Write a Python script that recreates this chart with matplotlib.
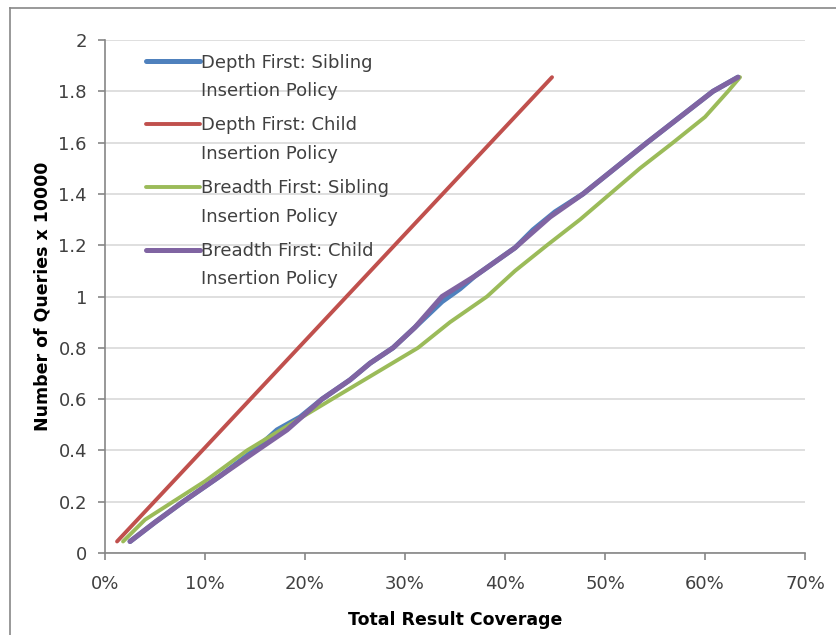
import numpy as np
import matplotlib
matplotlib.use("Agg")
import matplotlib.pyplot as plt
from matplotlib.lines import Line2D
from matplotlib.legend_handler import HandlerLine2D
from matplotlib.ticker import FuncFormatter

# --- data (x in % coverage, y in queries / 10000)
labels = ["Depth First: Sibling\nInsertion Policy",
          "Depth First: Child\nInsertion Policy",
          "Breadth First: Sibling\nInsertion Policy",
          "Breadth First: Child\nInsertion Policy"]

df_sib_x = [2.5, 5, 7.8, 11.5, 15.2, 17.2, 19.5, 21.7, 24.5, 26.5, 28.8, 31, 33.7, 35.5,
            37, 41, 42.8, 45, 47.8, 51, 54.2, 57.5, 60.8, 63.3]
df_sib_y = [0.045, 0.12, 0.2, 0.3, 0.41, 0.48, 0.53, 0.6, 0.675, 0.74, 0.8, 0.88, 0.98, 1.03,
            1.08, 1.19, 1.26, 1.33, 1.4, 1.5, 1.6, 1.7, 1.8, 1.855]

df_child_x = [1.2, 44.7]
df_child_y = [0.045, 1.855]

bf_sib_x = [1.8, 4, 6.8, 10, 14.2, 18, 22.7, 27, 31.3, 34.5, 38.2, 41, 44.2, 47.5, 50.5,
            53.5, 56.8, 60, 62.3, 63.5]
bf_sib_y = [0.045, 0.13, 0.2, 0.28, 0.4, 0.49, 0.6, 0.7, 0.8, 0.9, 1.0, 1.1, 1.2, 1.3, 1.4,
            1.5, 1.6, 1.7, 1.8, 1.855]

bf_child_x = [2.5, 5, 7.8, 11.5, 15.2, 18.2, 21.7, 24.5, 26.5, 28.8, 31, 33.7, 37, 41,
              44.5, 47.8, 51, 54.2, 57.5, 60.8, 63.3]
bf_child_y = [0.045, 0.12, 0.2, 0.3, 0.4, 0.48, 0.6, 0.675, 0.74, 0.8, 0.88, 1.0, 1.08, 1.19,
              1.31, 1.4, 1.5, 1.6, 1.7, 1.8, 1.855]

colors = ["#4F81BD", "#C0504D", "#9BBB59", "#8064A2"]
widths = [3.6, 2.8, 2.8, 3.6]

plt.rcParams['font.family'] = ['DejaVu Sans']

fig = plt.figure(figsize=(8.37, 6.35), dpi=100)
ax = fig.add_axes([0.1255, 0.1291, 0.8363, 0.8079])

series = [(df_sib_x, df_sib_y), (df_child_x, df_child_y),
          (bf_sib_x, bf_sib_y), (bf_child_x, bf_child_y)]
handles = []
for (xs, ys), c, w, lab in zip(series, colors, widths, labels):
    h, = ax.plot(xs, ys, color=c, lw=w, solid_capstyle='round', solid_joinstyle='round', label=lab)
    handles.append(h)

ax.set_xlim(0, 70)
ax.set_ylim(0, 2)
ax.set_xticks(np.arange(0, 71, 10))
ax.set_yticks(np.arange(0, 2.01, 0.2))
ax.xaxis.set_major_formatter(FuncFormatter(lambda v, p: f"{int(round(v))}%"))
ax.yaxis.set_major_formatter(FuncFormatter(lambda v, p: f"{v:g}"))
ax.grid(axis='y', color='#D9D9D9', lw=1.2)
ax.set_axisbelow(True)
for s in ['top', 'right']:
    ax.spines[s].set_visible(False)
for s in ['left', 'bottom']:
    ax.spines[s].set_color('#868686')
    ax.spines[s].set_linewidth(1.2)
ax.tick_params(axis='both', colors='#868686', labelcolor='#404040', labelsize=13, length=5, width=1.2)
ax.tick_params(axis='x', pad=11)
ax.tick_params(axis='y', pad=8)

ax.set_xlabel("Total Result Coverage", fontsize=12.5, fontweight='bold', labelpad=13)
ax.set_ylabel("Number of Queries x 10000", fontsize=12.5, fontweight='bold', labelpad=5)


class TopLine(HandlerLine2D):
    # put the line sample next to the first text line instead of the middle
    def create_artists(self, legend, orig_handle, xdescent, ydescent, width, height, fontsize, trans):
        arts = super().create_artists(legend, orig_handle, xdescent, ydescent, width, height, fontsize, trans)
        for a in arts:
            a.set_ydata(np.asarray(a.get_ydata()) + fontsize * 0.9)
        return arts


leg = ax.legend(handles=handles, loc='upper left', bbox_to_anchor=(0.035, 1.005), frameon=False,
                fontsize=13, handlelength=3.0, handletextpad=0.05, labelspacing=0.9,
                handler_map={Line2D: TopLine()})
for t in leg.get_texts():
    t.set_color('#404040')
    t.set_linespacing(1.75)

# chart frame
fig.add_artist(Line2D([10 / 837, 10 / 837], [0, 1 - 8 / 635], color='#888888', lw=1.2))
fig.add_artist(Line2D([10 / 837, 1], [1 - 8 / 635, 1 - 8 / 635], color='#888888', lw=1.2))

fig.savefig("out.png", dpi=100)
